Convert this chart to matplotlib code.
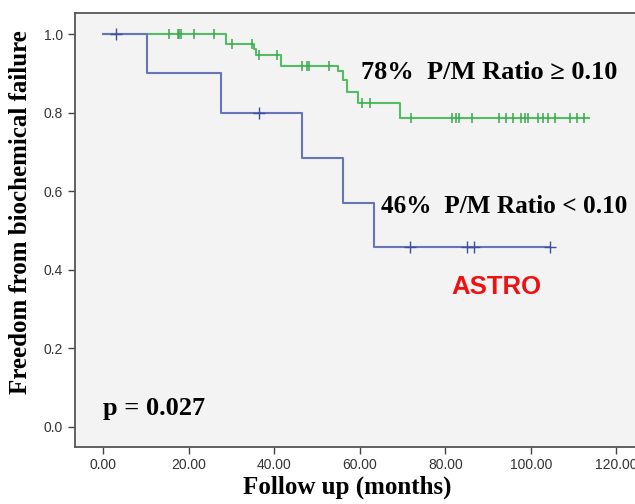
import matplotlib
matplotlib.use('Agg')
import matplotlib.pyplot as plt

# Kaplan-Meier curves
# P/M ratio >= 0.10 (green)
g_time = [0, 28.8, 35.3, 35.7, 41.6, 54.8, 56.1, 57.0, 59.5, 69.4, 113.6]
g_surv = [1.0, 0.976, 0.962, 0.948, 0.919, 0.906, 0.883, 0.852, 0.824, 0.786, 0.786]
g_cens = [15.4, 17.5, 17.8, 18.2, 21.3, 25.8, 30.2, 34.7, 36.5, 40.6, 46.5, 47.7, 48.2,
          52.9, 60.5, 62.3, 72.0, 81.6, 82.4, 83.2, 86.3, 92.6, 94.2, 95.7, 97.7, 98.5,
          99.3, 101.7, 102.8, 104.0, 105.6, 109.1, 110.7, 112.3]

# P/M ratio < 0.10 (blue)
b_time = [0, 10.3, 27.6, 46.5, 56.0, 63.3, 104.4]
b_surv = [1.0, 0.9, 0.8, 0.686, 0.571, 0.457, 0.457]
b_cens = [3.1, 36.4, 71.8, 85.0, 86.7, 104.4]

x_ticks = [0, 20, 40, 60, 80, 100, 120]
y_ticks = [0.0, 0.2, 0.4, 0.6, 0.8, 1.0]

green = '#52bd62'
blue = '#6674b8'


def surv_at(times, survs, t):
    s = survs[0]
    for i in range(len(times)):
        if times[i] <= t:
            s = survs[i]
    return s


fig = plt.figure(figsize=(6.35, 5.04), dpi=100)
ax = fig.add_axes([0.118, 0.114, 0.9, 0.861])
ax.set_facecolor('#f3f3f3')

ax.step(g_time, g_surv, where='post', color=green, lw=1.5)
ax.step(b_time, b_surv, where='post', color=blue, lw=1.5)

ax.plot(g_cens, [surv_at(g_time, g_surv, t) for t in g_cens], ls='none',
        marker='|', ms=7, mew=1.1, color='#3aa84c')
ax.plot(b_cens, [surv_at(b_time, b_surv, t) for t in b_cens], ls='none',
        marker='+', ms=8, mew=1.0, color='#3f4f9e')

ax.set_xlim(-6.6, 127)
ax.set_ylim(-0.05, 1.055)
ax.set_xticks(x_ticks)
ax.set_xticklabels(['%.2f' % v for v in x_ticks], family='Liberation Sans')
ax.set_yticks(y_ticks)
ax.set_yticklabels(['%.1f' % v for v in y_ticks], family='Liberation Sans')
ax.tick_params(labelsize=10, labelcolor='#333333', color='#444444', length=5, width=1)
for s in ax.spines.values():
    s.set_color('#555555')
    s.set_linewidth(1.3)

serif = 'Liberation Serif'
ax.set_xlabel('Follow up (months)', fontsize=18, fontweight='bold', family=serif)
ax.xaxis.set_label_coords(0.476, -0.067)
ax.set_ylabel('Freedom from biochemical failure', fontsize=18, fontweight='bold',
              family=serif)
ax.yaxis.set_label_coords(-0.075, 0.541)

ax.text(60.2, 0.903, '78%  P/M Ratio \u2265 0.10', fontsize=19, fontweight='bold',
        family=serif, va='center')
ax.text(65, 0.561, '46%  P/M Ratio < 0.10', fontsize=18.2, fontweight='bold',
        family=serif, va='center')
ax.text(81.5, 0.355, 'ASTRO', fontsize=18.5, fontweight='bold', color='#ee1111',
        family='Liberation Sans', va='center')
ax.text(0, 0.048, 'p = 0.027', fontsize=19, fontweight='bold', family=serif, va='center')

fig.savefig('out.png', dpi=100)
